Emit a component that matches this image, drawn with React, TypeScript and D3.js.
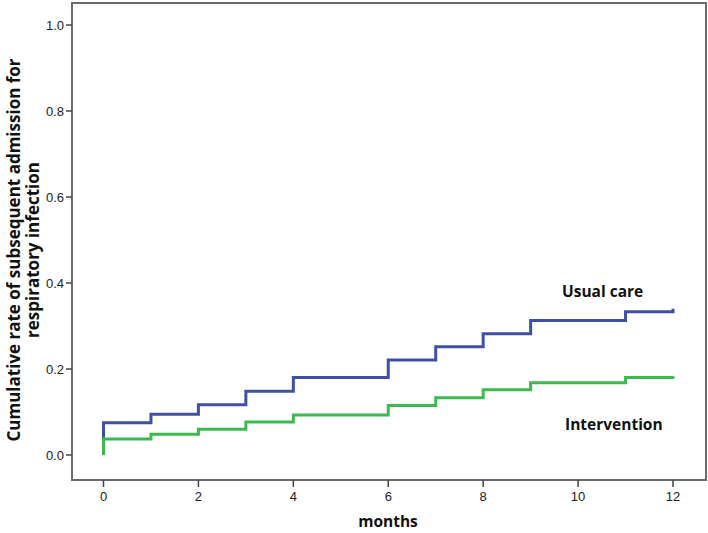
import React from "react";
import * as d3 from "d3";

const months = [0, 1, 2, 3, 4, 6, 7, 8, 9, 11, 12];
const usualCare = [0.075, 0.095, 0.117, 0.148, 0.18, 0.221, 0.252, 0.282, 0.313, 0.333, 0.34];
const intervention = [0.037, 0.048, 0.06, 0.077, 0.093, 0.115, 0.133, 0.152, 0.168, 0.18, 0.183];
const xTicks = [0, 2, 4, 6, 8, 10, 12];
const yTicks = [0, 0.2, 0.4, 0.6, 0.8, 1.0];

const W = 708, H = 533;
const frame = { left: 72, right: 706, top: 3, bottom: 480 };

export default function App() {
  const x = d3.scaleLinear().domain([0, 12]).range([103.5, 673]);
  const y = d3.scaleLinear().domain([0, 1]).range([455, 25]);

  const stepPath = (vals: number[]) => {
    const pts: [number, number][] = [[0, 0]];
    months.forEach((m, i) => pts.push([m, vals[i]]));
    const line = d3.line<[number, number]>().x(d => x(d[0])).y(d => y(d[1])).curve(d3.curveStepAfter);
    return line(pts) || "";
  };

  const tickFont = "'Liberation Sans', Arial, sans-serif";
  const font = "'Open Sans', 'Noto Sans', sans-serif";
  return (
    <svg width={W} height={H} style={{ position: "absolute", left: 0, top: 0, background: "#fff" }}>
      <rect x={frame.left} y={frame.top} width={frame.right - frame.left} height={frame.bottom - frame.top}
        fill="none" stroke="#6b6b6b" strokeWidth={2} />
      {yTicks.map(t => (
        <g key={"y" + t}>
          <line x1={frame.left - 6} x2={frame.left} y1={y(t)} y2={y(t)} stroke="#444" strokeWidth={1.5} />
          <text x={frame.left - 8} y={y(t)} dy="0.35em" textAnchor="end" fontFamily={tickFont} fontSize={13} fill="#222">
            {t.toFixed(1)}
          </text>
        </g>
      ))}
      {xTicks.map(t => (
        <g key={"x" + t}>
          <line x1={x(t)} x2={x(t)} y1={frame.bottom} y2={frame.bottom + 7} stroke="#444" strokeWidth={1.5} />
          <text x={x(t)} y={frame.bottom + 21} textAnchor="middle" fontFamily={tickFont} fontSize={13} fill="#222">
            {t}
          </text>
        </g>
      ))}
      <path d={stepPath(usualCare)} fill="none" stroke="#3F51A5" strokeWidth={3} />
      <path d={stepPath(intervention)} fill="none" stroke="#3DBA4E" strokeWidth={3} />
      <text x={562} y={297} textAnchor="start" fontFamily={font} fontSize={15.5} fontWeight="bold" fill="#111">Usual care</text>
      <text x={565} y={430} textAnchor="start" fontFamily={font} fontSize={15.5} fontWeight="bold" fill="#111">Intervention</text>
      <text x={388} y={527} textAnchor="middle" fontFamily={font} fontSize={15.5} fontWeight="bold" fill="#111">months</text>
      <g transform="translate(20,250) rotate(-90)">
        <text x={0} y={0} textAnchor="middle" fontFamily={font} fontSize={17} fontWeight="bold" fill="#111">
          Cumulative rate of subsequent admission for
        </text>
        <text x={0} y={19} textAnchor="middle" fontFamily={font} fontSize={17} fontWeight="bold" fill="#111">
          respiratory infection
        </text>
      </g>
    </svg>
  );
}
